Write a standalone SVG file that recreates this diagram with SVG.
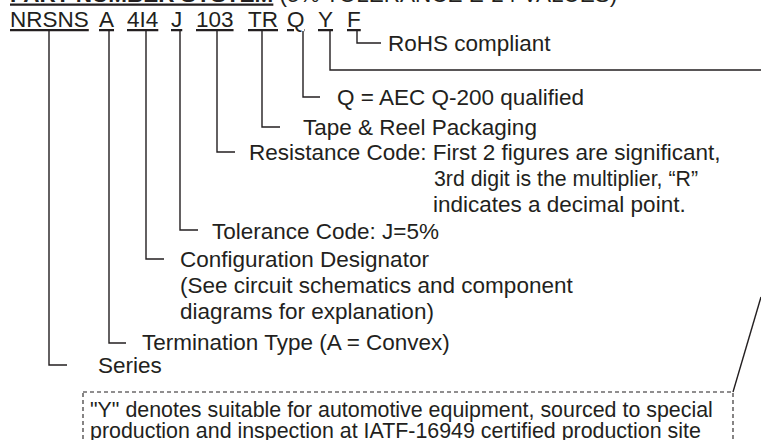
<svg xmlns="http://www.w3.org/2000/svg" width="761" height="440" viewBox="0 0 761 440">
<style>
text{font-family:"Liberation Sans",Arial,Helvetica,sans-serif;font-size:22.5px;fill:#231f20}
.u{text-decoration:underline}
.b{font-weight:bold}
.n{font-size:21.4px}
.ln{fill:none;stroke:#231f20;stroke-width:1.4}
.dash{fill:none;stroke:#231f20;stroke-width:1.1;stroke-dasharray:4 3}
</style>
<rect width="761" height="440" fill="#fff"/>
<g id="title">
<text x="10" y="1.5"><tspan class="b u">PART NUMBER SYSTEM</tspan> (5% TOLERANCE E-24 VALUES)</text>
</g>
<g id="codes">
<text class="u" x="10" y="27">NRSNS</text>
<text class="u" x="99" y="27">A</text>
<text class="u" x="127" y="27">4I4</text>
<text class="u" x="171" y="27">J</text>
<text class="u" x="196" y="27">103</text>
<text class="u" x="248" y="27">TR</text>
<text class="u" x="287" y="27">Q</text>
<text class="u" x="318" y="27">Y</text>
<text class="u" x="347" y="27">F</text>
</g>
<g id="connectors">
<polyline class="ln" points="357,31 357,43 381,43"/>
<polyline class="ln" points="330,31 330,70 761,70"/>
<polyline class="ln" points="303,31 303,97 320,97"/>
<polyline class="ln" points="262,31 262,127 280,127"/>
<polyline class="ln" points="217,31 217,152 235,152"/>
<polyline class="ln" points="180,31 180,230 198,230"/>
<polyline class="ln" points="146,31 146,259 164,259"/>
<polyline class="ln" points="109,31 109,343 126,343"/>
<polyline class="ln" points="49,31 49,365 67,365"/>
<line class="ln" x1="761" y1="297" x2="733" y2="392" stroke-width="1.2"/>
</g>
<g id="rohs"><text x="388" y="51">RoHS compliant</text></g>
<g id="aec"><text x="337" y="105">Q = AEC Q-200 qualified</text></g>
<g id="tape"><text x="303" y="135">Tape &amp; Reel Packaging</text></g>
<g id="resistance">
<text x="249" y="160">Resistance Code: First 2 figures are significant,</text>
<text x="434" y="186" textLength="264" lengthAdjust="spacingAndGlyphs">3rd digit is the multiplier, “R”</text>
<text x="433" y="212">indicates a decimal point.</text>
</g>
<g id="tolerance"><text x="212" y="239">Tolerance Code: J=5%</text></g>
<g id="config">
<text x="180" y="267">Configuration Designator</text>
<text x="180" y="293">(See circuit schematics and component</text>
<text x="180" y="319">diagrams for explanation)</text>
</g>
<g id="termination"><text x="142" y="350">Termination Type (A = Convex)</text></g>
<g id="series"><text x="98" y="373">Series</text></g>
<g id="note">
<rect class="dash" x="83" y="392" width="650" height="70"/>
<text class="n" x="90" y="417">"Y" denotes suitable for automotive equipment, sourced to special</text>
<text class="n" x="90" y="438">production and inspection at IATF-16949 certified production site</text>
</g>
</svg>
